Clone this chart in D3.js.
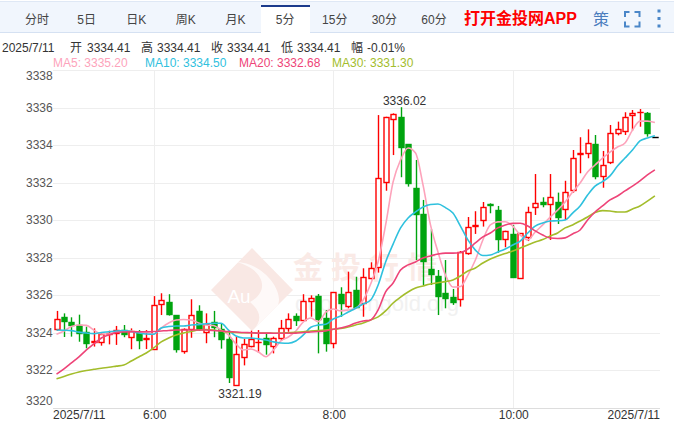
<!DOCTYPE html>
<html><head><meta charset="utf-8">
<script src="https://cdn.jsdelivr.net/npm/d3@7/dist/d3.min.js"></script>
<style>html,body{margin:0;padding:0;background:#fff}svg{display:block}text{font-family:"Liberation Sans",Arial,sans-serif}.cjk{font-family:"Liberation Sans","Noto Sans CJK SC",sans-serif}</style>
</head><body><svg id="c" width="674" height="423"></svg>
<script>
const tabs=["分时","5日","日K","周K","月K","5分","15分","30分","60分"];
const yTicks=[3320,3322,3324,3326,3328,3330,3332,3334,3336,3338];
const timeLabels=[[0,"2025/7/11"],[13,"6:00"],[37,"8:00"],[61,"10:00"],[80,"2025/7/11"]];
const infoRow=[["2025/7/11",2],["开",70],["3334.41",87],["高",141],["3334.41",157],["收",211],["3334.41",227],["低",281],["3334.41",297],["幅",351],["-0.01%",367]];
const opens=[3324.22,3324.83,3324.58,3324.42,3324.03,3323.52,3323.50,3323.96,3323.98,3324.14,3323.80,3324.06,3323.69,3323.16,3325.52,3325.63,3324.95,3323.05,3324.21,3325.15,3324.03,3324.58,3324.19,3323.66,3321.24,3322.70,3323.32,3323.50,3323.71,3323.32,3323.74,3324.28,3324.90,3324.67,3325.71,3325.96,3324.79,3323.48,3326.07,3325.45,3326.28,3325.58,3326.94,3327.49,3332.02,3335.37,3335.48,3334.06,3331.70,3330.32,3327.39,3327.03,3326.11,3325.90,3325.82,3328.24,3329.68,3330.01,3330.86,3330.54,3329.02,3329.27,3326.94,3329.11,3330.69,3330.97,3330.85,3330.97,3330.58,3331.61,3333.55,3333.56,3334.06,3332.36,3333.12,3334.63,3334.74,3335.59,3335.75,3335.69,3334.41];
const closes=[3324.72,3324.65,3324.40,3324.01,3323.48,3323.55,3323.93,3323.99,3324.15,3323.96,3324.12,3323.62,3323.73,3325.47,3325.74,3324.99,3323.16,3324.19,3324.94,3324.19,3324.46,3324.33,3323.68,3321.67,3322.86,3323.39,3323.66,3323.53,3323.42,3323.71,3324.24,3324.72,3324.69,3325.68,3325.84,3324.76,3323.48,3326.16,3325.61,3326.19,3325.40,3326.99,3327.44,3332.23,3335.48,3335.66,3333.92,3332.00,3330.32,3327.84,3327.15,3325.98,3325.87,3325.66,3328.29,3329.62,3329.75,3330.69,3330.83,3328.98,3329.44,3326.99,3329.30,3330.42,3330.90,3330.85,3331.22,3330.19,3331.49,3333.30,3333.58,3334.10,3332.37,3332.92,3334.63,3334.84,3335.51,3335.69,3335.78,3334.63,3334.41];
const highs=[3325.17,3325.04,3324.83,3324.97,3324.33,3324.24,3324.03,3324.12,3324.37,3324.42,3324.24,3324.15,3324.15,3325.96,3326.11,3326.06,3324.95,3324.24,3325.79,3325.47,3325.04,3325.17,3324.51,3324.06,3323.80,3323.68,3324.12,3324.15,3323.99,3323.80,3324.69,3325.04,3325.04,3326.06,3326.00,3326.07,3325.22,3326.16,3326.43,3327.26,3326.99,3327.44,3327.76,3335.60,3335.51,3335.69,3336.02,3334.06,3333.21,3331.08,3329.52,3327.35,3327.88,3326.34,3328.36,3330.17,3330.48,3330.97,3330.90,3330.76,3329.44,3329.75,3329.30,3330.72,3332.46,3331.22,3332.46,3331.47,3332.10,3333.74,3334.42,3334.84,3334.54,3333.69,3335.07,3335.25,3335.75,3335.87,3335.92,3335.76,3334.41];
const lows=[3324.12,3323.78,3323.80,3323.53,3323.18,3323.27,3323.32,3323.39,3323.36,3323.77,3323.13,3323.13,3323.14,3323.13,3324.95,3324.92,3322.95,3322.89,3323.74,3324.12,3323.45,3323.77,3323.16,3321.33,3321.19,3322.27,3323.23,3322.95,3322.84,3322.91,3323.58,3324.06,3324.37,3324.65,3324.86,3322.91,3323.00,3323.18,3324.86,3325.31,3325.31,3324.86,3326.85,3327.21,3331.57,3333.47,3332.29,3331.79,3327.88,3326.55,3326.55,3324.95,3325.31,3325.49,3325.40,3328.16,3329.27,3329.66,3330.37,3328.27,3328.56,3326.96,3326.89,3328.89,3330.28,3330.69,3328.95,3329.80,3330.01,3331.47,3332.50,3333.30,3332.18,3331.73,3332.99,3334.52,3334.54,3334.77,3334.98,3334.45,3334.41];
const ma5=[3323.93,3324.10,3324.34,3324.42,3324.40,3324.15,3323.94,3323.94,3324.05,3324.10,3324.10,3324.05,3324.02,3323.94,3324.26,3324.53,3324.69,3324.71,3324.69,3324.53,3324.42,3324.39,3324.15,3323.89,3323.41,3323.09,3323.14,3322.98,3322.73,3323.09,3323.57,3323.78,3324.10,3324.58,3324.79,3324.60,3325.11,3325.27,3325.17,3325.22,3325.31,3325.75,3326.60,3327.78,3329.75,3332.04,3333.21,3333.85,3333.58,3331.88,3329.75,3328.31,3327.08,3326.44,3326.47,3327.08,3327.88,3328.95,3329.75,3329.91,3329.92,3329.69,3329.21,3328.95,3329.37,3329.75,3330.17,3330.54,3330.97,3331.50,3331.98,3332.57,3332.94,3333.31,3333.63,3333.90,3334.11,3334.80,3335.28,3335.28,3335.20];
const ma10=[3324.15,3324.14,3324.12,3324.04,3323.99,3323.96,3324.02,3324.06,3324.10,3324.12,3324.07,3323.99,3323.94,3323.93,3324.26,3324.34,3324.37,3324.37,3324.42,3324.44,3324.49,3324.51,3324.51,3324.15,3323.83,3323.73,3323.73,3323.68,3323.62,3323.52,3323.46,3323.45,3323.57,3323.89,3324.30,3324.42,3324.46,3324.74,3324.90,3325.11,3325.31,3325.54,3325.75,3326.55,3327.78,3328.73,3329.59,3330.12,3330.44,3330.70,3330.84,3330.86,3330.67,3330.38,3329.69,3328.95,3328.41,3328.12,3328.15,3328.31,3328.47,3328.68,3328.89,3329.32,3329.69,3329.85,3329.96,3329.97,3330.01,3330.38,3330.76,3331.34,3331.82,3332.06,3332.36,3332.89,3333.31,3333.74,3334.22,3334.38,3334.50];
const ma20=[3321.80,3322.08,3322.40,3322.72,3323.09,3323.41,3323.73,3323.89,3324.02,3324.05,3324.06,3324.06,3324.06,3324.07,3324.10,3324.13,3324.15,3324.15,3324.15,3324.15,3324.15,3324.13,3324.10,3324.07,3324.05,3324.02,3324.01,3323.99,3323.99,3323.98,3323.98,3323.98,3323.99,3324.02,3324.05,3324.07,3324.10,3324.19,3324.26,3324.37,3324.53,3324.63,3324.69,3325.22,3326.18,3326.66,3327.35,3327.62,3327.78,3327.99,3328.10,3328.20,3328.25,3328.25,3328.28,3328.47,3328.79,3329.11,3329.32,3329.59,3329.75,3329.83,3329.84,3329.69,3329.43,3329.21,3329.05,3329.03,3329.06,3329.27,3329.48,3330.01,3330.44,3330.76,3331.08,3331.29,3331.56,3331.82,3332.09,3332.41,3332.68];
const ma30=[3321.56,3321.68,3321.81,3321.92,3322.00,3322.06,3322.12,3322.17,3322.23,3322.29,3322.50,3322.72,3322.93,3323.20,3323.52,3323.73,3323.89,3323.99,3324.07,3324.15,3324.18,3324.15,3324.10,3324.05,3324.02,3324.01,3324.01,3323.99,3323.99,3323.98,3323.99,3324.01,3324.03,3324.06,3324.10,3324.13,3324.15,3324.19,3324.23,3324.31,3324.42,3324.53,3324.69,3324.85,3325.17,3325.59,3325.91,3326.18,3326.39,3326.50,3326.60,3326.67,3326.73,3326.82,3327.03,3327.30,3327.46,3327.72,3327.94,3328.10,3328.23,3328.36,3328.52,3328.68,3328.84,3328.97,3329.16,3329.32,3329.59,3329.75,3329.96,3330.17,3330.41,3330.51,3330.49,3330.44,3330.44,3330.60,3330.76,3331.02,3331.30];
const maNames=["MA5","MA10","MA20","MA30"];
const maLast=["3335.20","3334.50","3332.68","3331.30"];
const maColors=["#fda3bb","#2fc1de","#ee4478","#a3bd2b"];
const maStart=[53,145,239,332];
const idx=d3.range(opens.length);
const svg=d3.select("#c");
const x=d3.scaleLinear().domain([0,80]).range([56.5,654.9]);
const y=d3.scaleLinear().domain([3320,3338]).range([408,70]);

// tab bar
svg.append("rect").attr("x",0).attr("y",1).attr("width",674).attr("height",31).attr("fill","#f1f6fd");
svg.append("line").attr("x1",0).attr("x2",674).attr("y1",1.5).attr("y2",1.5).attr("stroke","#dfe8f5");
svg.append("line").attr("x1",0).attr("x2",674).attr("y1",32.5).attr("y2",32.5).attr("stroke","#d5e1f2");
svg.append("rect").attr("x",261).attr("y",5).attr("width",49).attr("height",28).attr("fill","#fff");
svg.append("rect").attr("x",261).attr("y",5).attr("width",49).attr("height",2).attr("fill","#1b3a8c");
const tabX=d3.scalePoint().domain(tabs).range([37,434]);
svg.selectAll(".tab").data(tabs).join("text").attr("class","tab cjk").attr("x",d=>tabX(d)).attr("y",23.5)
  .attr("text-anchor","middle").attr("font-size",12).attr("fill","#444").text(d=>d);
svg.append("text").attr("class","cjk").attr("x",464).attr("y",23.5).attr("font-size",16).attr("font-weight","bold").attr("fill","#ff0000").text("打开金投网APP");
svg.append("text").attr("class","cjk").attr("x",593).attr("y",24.5).attr("font-size",16).attr("fill","#4a7dbd").text("策");
svg.append("path").attr("d","M625 17v-5h4.5M634.5 12h5v5M639.5 21.5v5h-5M629.5 26.5h-4.5v-5").attr("fill","none").attr("stroke","#4a86c8").attr("stroke-width",2);
[11,18.5,26].forEach(v=>svg.append("rect").attr("x",657.5).attr("y",v-1.5).attr("width",3).attr("height",3).attr("fill","#4a86c8"));

// info rows
svg.selectAll(".info").data(infoRow).join("text").attr("class","info cjk").attr("x",d=>d[1]).attr("y",52).attr("font-size",12).attr("fill","#333").text(d=>d[0]);
svg.selectAll(".mal").data(maNames).join("text").attr("class","mal").attr("x",(d,i)=>maStart[i]).attr("y",66.5).attr("font-size",12).attr("fill",(d,i)=>maColors[i]).text((d,i)=>d+": "+maLast[i]);

// grid
svg.selectAll(".gy").data(yTicks).join("line").attr("x1",53).attr("x2",660).attr("y1",d=>Math.round(y(d))+.5).attr("y2",d=>Math.round(y(d))+.5).attr("stroke",d=>d===3320?"#dddddd":"#eeeeee");
svg.selectAll(".gx").data(timeLabels.slice(1,4)).join("line").attr("x1",d=>Math.round(x(d[0]))+.5).attr("x2",d=>Math.round(x(d[0]))+.5).attr("y1",70).attr("y2",408).attr("stroke","#eeeeee");

// watermark
const wm=svg.append("g");
wm.append("path").attr("d","M252 248L293 290L252 331L211 290Z").attr("fill","#f9e8e4");
wm.append("path").attr("d","M236 262C262 268 272 290 250 302C262 312 262 322 252 331L278 305C284 290 262 262 236 262Z").attr("fill","#ffffff").attr("opacity",.75);
wm.append("text").attr("x",239).attr("y",303).attr("font-size",19).attr("fill","#fff").attr("text-anchor","middle").text("Au");
wm.append("text").attr("class","cjk").attr("x",293).attr("y",278).attr("font-size",30).attr("letter-spacing",8).attr("font-weight","bold").attr("fill","#faeae6").text("金投行情");
wm.append("text").attr("x",295).attr("y",311).attr("font-size",22).attr("fill","#f1f1f1").text("quote.cngold.org");

// candles
const colorOf=i=>i===80?"#000000":closes[i]>=opens[i]?"#ff0000":"#00a40f";
svg.selectAll(".wick").data(idx).join("line").attr("class","wick")
  .attr("x1",i=>Math.round(x(i))+.5).attr("x2",i=>Math.round(x(i))+.5)
  .attr("y1",i=>y(highs[i])).attr("y2",i=>y(lows[i])).attr("stroke",colorOf).attr("stroke-width",1.4);
svg.selectAll(".body").data(idx).join("rect").attr("class","body")
  .attr("x",i=>Math.round(x(i))-2).attr("width",5)
  .attr("y",i=>Math.round(y(Math.max(opens[i],closes[i])))+.5)
  .attr("height",i=>Math.max(.01,Math.round(y(Math.min(opens[i],closes[i])))-Math.round(y(Math.max(opens[i],closes[i])))))
  .attr("fill",i=>i===80?"#000":closes[i]>=opens[i]?"#fff":"#00a40f")
  .attr("stroke",colorOf).attr("stroke-width",1.4);

// moving averages
const line=d3.line().x((d,i)=>x(i)).y(d=>y(d)).curve(d3.curveMonotoneX);
[ma5,ma10,ma30,ma20].forEach((s,k)=>{
  const col=[maColors[0],maColors[1],maColors[3],maColors[2]][k];
  svg.append("path").attr("d",line(s)).attr("fill","none").attr("stroke",col).attr("stroke-width",1.6);
});

// y axis labels
svg.selectAll(".yl").data(yTicks).join("text").attr("class","yl").attr("x",26)
  .attr("y",d=>d===3338?80:d===3320?405:y(d)+4).attr("font-size",12).attr("fill","#555").text(d=>d);
// x axis labels
svg.selectAll(".xl").data(timeLabels).join("text").attr("class","xl")
  .attr("x",(d,i)=>i===0?53:i===4?660:x(d[0])+1).attr("y",419)
  .attr("text-anchor",(d,i)=>i===0?"start":i===4?"end":"middle").attr("font-size",12).attr("fill","#333").text(d=>d[1]);
// extremes
const hiIdx=highs.indexOf(d3.max(highs)),loIdx=lows.indexOf(d3.min(lows));
svg.append("text").attr("x",x(hiIdx)+4).attr("y",y(highs[hiIdx])-2).attr("text-anchor","middle").attr("font-size",12).attr("fill","#333").text(highs[hiIdx].toFixed(2));
svg.append("text").attr("x",x(loIdx)+4).attr("y",y(lows[loIdx])+12).attr("text-anchor","middle").attr("font-size",12).attr("fill","#333").text(lows[loIdx].toFixed(2));
</script></body></html>
